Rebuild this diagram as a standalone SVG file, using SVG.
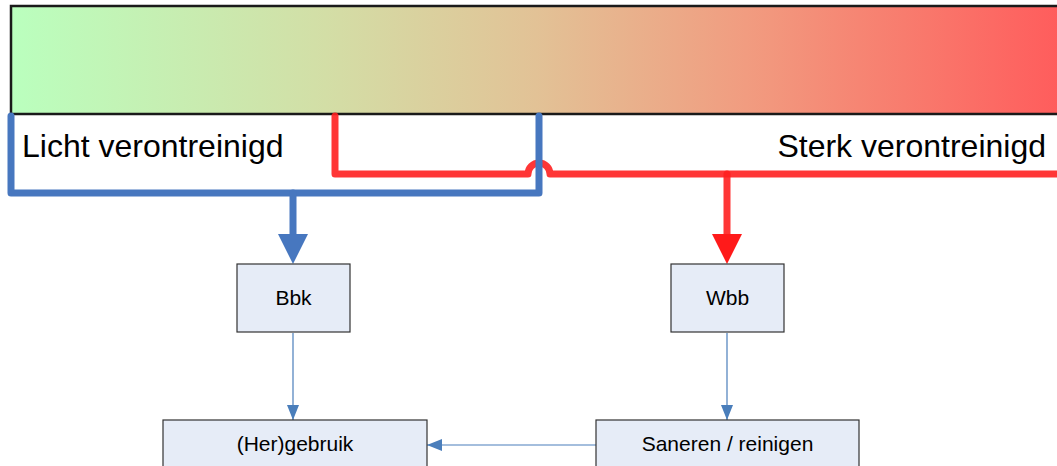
<svg xmlns="http://www.w3.org/2000/svg" width="1057" height="466" viewBox="0 0 1057 466">
  <defs>
    <linearGradient id="bar" x1="0" y1="0" x2="1" y2="0">
      <stop offset="0" stop-color="#BAFFBE"/>
      <stop offset="0.3" stop-color="#D3DEA6"/>
      <stop offset="0.5" stop-color="#E2C296"/>
      <stop offset="0.7" stop-color="#F19C80"/>
      <stop offset="1" stop-color="#FF5C5C"/>
    </linearGradient>
    <marker id="thin" markerWidth="16" markerHeight="12" refX="15" refY="6" orient="auto" markerUnits="userSpaceOnUse">
      <path d="M0,0 L15,6 L0,12 Z" fill="#4A7EBB"/>
    </marker>
  </defs>
  <style>
    .box { fill: #E6ECF7; stroke: #333; stroke-width: 1.2; }
    .lbl { font-family: "Liberation Sans", Arial, sans-serif; font-size: 21px; fill: #000; text-anchor: middle; }
    .big { font-family: "Liberation Sans", Arial, sans-serif; font-size: 32px; fill: #000; }
    .thin { fill: none; stroke: #4A7EBB; stroke-width: 1.2; marker-end: url(#thin); }
    .blue { fill: none; stroke: #4777BF; stroke-width: 7; stroke-linejoin: round; stroke-linecap: round; }
    .red { fill: none; stroke: #FF2020; stroke-opacity: 0.9; stroke-width: 7; stroke-linejoin: round; stroke-linecap: round; }
  </style>
  <g id="scale">
    <rect x="11" y="6" width="1050" height="108" fill="url(#bar)" stroke="#1a1a1a" stroke-width="2.5"/>
    <text class="big" x="22" y="157">Licht verontreinigd</text>
    <text class="big" x="1046" y="157" text-anchor="end">Sterk verontreinigd</text>
  </g>
  <g id="connectors">
    <path class="red" d="M335,116 V174 H528 A11,11 0 0 1 550,174 H1060"/>
    <path class="red" d="M727,174 V236"/>
    <path d="M712,234 L742,234 L727,264 Z" fill="#FF1A1A"/>
    <path class="blue" d="M11,116 V193 H539 V116"/>
    <path class="blue" d="M293,193 V236"/>
    <path d="M278,234 L308,234 L293,264 Z" fill="#4777BF"/>
    <path class="thin" d="M293,333 V420"/>
    <path class="thin" d="M727,333 V420"/>
    <path class="thin" d="M596,445 H427"/>
  </g>
  <g id="bbk">
    <rect class="box" x="237" y="264" width="113" height="68"/>
    <text class="lbl" x="293.5" y="305">Bbk</text>
  </g>
  <g id="wbb">
    <rect class="box" x="671" y="264" width="113" height="68"/>
    <text class="lbl" x="727.5" y="305">Wbb</text>
  </g>
  <g id="hergebruik">
    <rect class="box" x="163" y="420" width="264" height="60"/>
    <text class="lbl" x="295" y="451">(Her)gebruik</text>
  </g>
  <g id="saneren">
    <rect class="box" x="596" y="420" width="263" height="60"/>
    <text class="lbl" x="727.5" y="451">Saneren / reinigen</text>
  </g>
</svg>
